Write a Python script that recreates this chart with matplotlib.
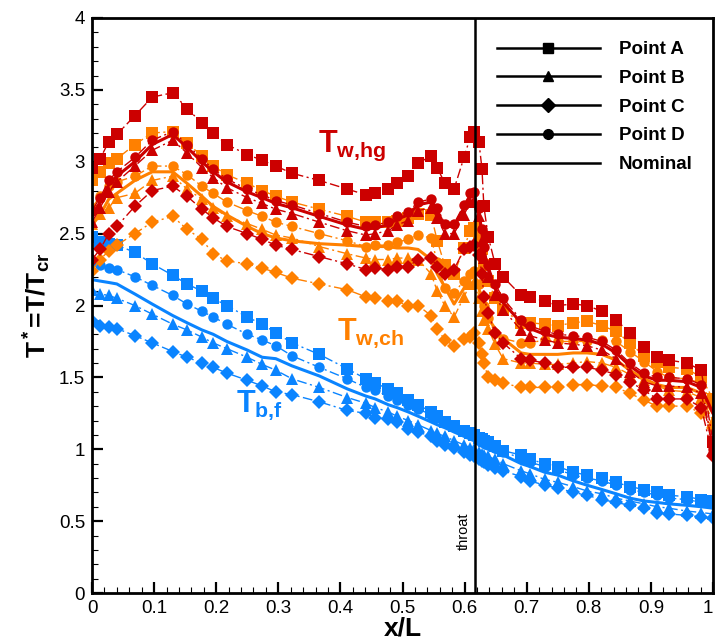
import matplotlib.pyplot as plt
from matplotlib.lines import Line2D

# axial stations (x/L) shared by every curve
x_stations = [0.000, 0.013, 0.027, 0.040, 0.069, 0.097, 0.130, 0.153, 0.177, 0.195,
              0.217, 0.250, 0.274, 0.296, 0.322, 0.366, 0.411, 0.441, 0.456, 0.477,
              0.491, 0.509, 0.525, 0.546, 0.556, 0.568, 0.583, 0.599, 0.609, 0.615,
              0.623, 0.628, 0.631, 0.638, 0.649, 0.662, 0.691, 0.705, 0.729, 0.750,
              0.775, 0.797, 0.821, 0.844, 0.866, 0.889, 0.910, 0.929, 0.958, 0.981,
              1.000]

# hot-gas side wall temperature T_w,hg
red_a = [2.96, 3.02, 3.14, 3.19, 3.32, 3.45, 3.48, 3.37, 3.27, 3.20,
         3.12, 3.05, 3.01, 2.97, 2.92, 2.87, 2.81, 2.77, 2.78, 2.81,
         2.85, 2.90, 2.99, 3.04, 2.96, 2.85, 2.81, 3.03, 3.17, 3.21,
         3.14, 2.95, 2.69, 2.48, 2.29, 2.20, 2.07, 2.06, 2.03, 2.00,
         2.01, 2.00, 1.96, 1.90, 1.81, 1.71, 1.64, 1.62, 1.60, 1.55,
         1.05]
red_b = [2.58, 2.68, 2.79, 2.86, 2.97, 3.08, 3.15, 3.06, 2.96, 2.89,
         2.82, 2.75, 2.71, 2.67, 2.64, 2.58, 2.52, 2.49, 2.50, 2.52,
         2.56, 2.59, 2.66, 2.68, 2.61, 2.50, 2.50, 2.63, 2.72, 2.73,
         2.62, 2.45, 2.33, 2.20, 2.07, 1.97, 1.83, 1.79, 1.76, 1.74,
         1.73, 1.72, 1.69, 1.63, 1.54, 1.47, 1.44, 1.44, 1.43, 1.39,
         1.00]
red_c = [2.32, 2.39, 2.50, 2.55, 2.69, 2.80, 2.83, 2.76, 2.67, 2.61,
         2.55, 2.50, 2.46, 2.42, 2.39, 2.34, 2.29, 2.25, 2.26, 2.25,
         2.27, 2.27, 2.32, 2.33, 2.27, 2.22, 2.25, 2.39, 2.41, 2.42,
         2.35, 2.22, 2.06, 1.95, 1.81, 1.74, 1.63, 1.62, 1.60, 1.57,
         1.57, 1.57, 1.55, 1.52, 1.47, 1.41, 1.35, 1.35, 1.35, 1.29,
         0.95]
red_d = [2.66, 2.75, 2.87, 2.93, 3.03, 3.15, 3.21, 3.12, 3.02, 2.95,
         2.88, 2.81, 2.77, 2.73, 2.70, 2.64, 2.58, 2.55, 2.56, 2.58,
         2.62, 2.65, 2.72, 2.74, 2.68, 2.57, 2.57, 2.70, 2.78, 2.79,
         2.68, 2.53, 2.41, 2.28, 2.15, 2.05, 1.90, 1.86, 1.82, 1.80,
         1.79, 1.78, 1.75, 1.69, 1.60, 1.53, 1.50, 1.50, 1.49, 1.45,
         1.00]
red_nom = [2.62, 2.72, 2.84, 2.90, 3.00, 3.12, 3.19, 3.10, 3.00, 2.93,
           2.86, 2.79, 2.75, 2.71, 2.68, 2.62, 2.56, 2.53, 2.54, 2.56,
           2.60, 2.63, 2.70, 2.72, 2.66, 2.55, 2.55, 2.68, 2.76, 2.77,
           2.66, 2.50, 2.38, 2.25, 2.12, 2.02, 1.88, 1.84, 1.80, 1.78,
           1.77, 1.76, 1.73, 1.67, 1.58, 1.51, 1.48, 1.48, 1.47, 1.43,
           1.25]

# coolant side wall temperature T_w,ch
orange_a = [2.87, 2.93, 2.99, 3.02, 3.12, 3.20, 3.21, 3.13, 3.04, 2.97,
            2.91, 2.85, 2.80, 2.76, 2.72, 2.67, 2.62, 2.58, 2.58, 2.58,
            2.59, 2.61, 2.64, 2.63, 2.45, 2.28, 2.22, 2.40, 2.52, 2.54,
            2.48, 2.39, 2.28, 2.17, 2.05, 1.97, 1.88, 1.88, 1.87, 1.86,
            1.88, 1.89, 1.86, 1.82, 1.74, 1.65, 1.61, 1.57, 1.56, 1.50,
            1.35]
orange_b = [2.57, 2.64, 2.68, 2.75, 2.78, 2.87, 2.90, 2.81, 2.74, 2.68,
            2.62, 2.57, 2.53, 2.49, 2.47, 2.41, 2.36, 2.33, 2.32, 2.32,
            2.33, 2.33, 2.32, 2.22, 2.10, 2.00, 1.92, 2.06, 2.15, 2.16,
            2.05, 1.96, 1.90, 1.84, 1.73, 1.63, 1.60, 1.60, 1.59, 1.59,
            1.60, 1.61, 1.60, 1.57, 1.52, 1.48, 1.44, 1.41, 1.40, 1.36,
            1.20]
orange_c = [2.24, 2.32, 2.38, 2.42, 2.50, 2.58, 2.62, 2.53, 2.46, 2.36,
            2.31, 2.29, 2.26, 2.23, 2.19, 2.15, 2.11, 2.06, 2.05, 2.03,
            2.03, 2.00, 2.00, 1.93, 1.84, 1.76, 1.72, 1.77, 1.78, 1.81,
            1.74, 1.66, 1.60, 1.50, 1.48, 1.46, 1.43, 1.43, 1.43, 1.43,
            1.45, 1.45, 1.44, 1.43, 1.39, 1.34, 1.30, 1.30, 1.30, 1.25,
            1.15]
orange_d = [2.68, 2.76, 2.83, 2.86, 2.90, 2.97, 2.97, 2.91, 2.83, 2.78,
            2.72, 2.66, 2.62, 2.58, 2.55, 2.50, 2.45, 2.41, 2.42, 2.42,
            2.44, 2.46, 2.49, 2.47, 2.30, 2.12, 2.09, 2.17, 2.22, 2.24,
            2.15, 2.06, 2.00, 1.91, 1.81, 1.77, 1.74, 1.74, 1.76, 1.75,
            1.75, 1.75, 1.76, 1.75, 1.68, 1.61, 1.54, 1.50, 1.49, 1.46,
            1.30]
orange_nom = [2.56, 2.63, 2.74, 2.78, 2.87, 2.93, 2.93, 2.85, 2.76, 2.69,
              2.63, 2.55, 2.50, 2.47, 2.45, 2.43, 2.42, 2.41, 2.41, 2.41,
              2.40, 2.40, 2.39, 2.32, 2.22, 2.13, 2.01, 2.12, 2.20, 2.22,
              2.12, 2.03, 1.97, 1.91, 1.84, 1.77, 1.67, 1.66, 1.66, 1.66,
              1.67, 1.67, 1.66, 1.62, 1.55, 1.49, 1.45, 1.43, 1.43, 1.39,
              1.25]

# bulk fuel temperature T_b,f
blue_a = [2.48, 2.44, 2.43, 2.42, 2.37, 2.29, 2.21, 2.15, 2.10, 2.05,
          2.00, 1.92, 1.87, 1.81, 1.74, 1.66, 1.56, 1.49, 1.46, 1.42,
          1.39, 1.34, 1.31, 1.26, 1.23, 1.19, 1.16, 1.13, 1.11, 1.10,
          1.08, 1.07, 1.06, 1.05, 1.02, 0.99, 0.96, 0.93, 0.90, 0.88,
          0.84, 0.82, 0.80, 0.77, 0.74, 0.72, 0.70, 0.68, 0.67, 0.65,
          0.64]
blue_b = [2.11, 2.08, 2.07, 2.05, 2.00, 1.94, 1.87, 1.83, 1.78, 1.74,
          1.70, 1.64, 1.59, 1.55, 1.49, 1.43, 1.36, 1.32, 1.29, 1.26,
          1.23, 1.20, 1.17, 1.13, 1.11, 1.09, 1.06, 1.03, 1.01, 1.00,
          0.98, 0.97, 0.96, 0.95, 0.93, 0.90, 0.85, 0.83, 0.79, 0.77,
          0.74, 0.71, 0.69, 0.66, 0.64, 0.62, 0.60, 0.59, 0.57, 0.56,
          0.55]
blue_c = [1.89, 1.86, 1.85, 1.84, 1.79, 1.74, 1.68, 1.64, 1.60, 1.57,
          1.53, 1.48, 1.44, 1.40, 1.38, 1.33, 1.27, 1.25, 1.22, 1.21,
          1.19, 1.14, 1.12, 1.09, 1.06, 1.03, 1.01, 0.98, 0.96, 0.95,
          0.93, 0.92, 0.91, 0.89, 0.87, 0.85, 0.81, 0.78, 0.75, 0.73,
          0.70, 0.68, 0.65, 0.63, 0.61, 0.59, 0.56, 0.55, 0.54, 0.53,
          0.52]
blue_d = [2.30, 2.28, 2.26, 2.25, 2.20, 2.14, 2.07, 2.01, 1.96, 1.92,
          1.87, 1.80, 1.76, 1.72, 1.65, 1.57, 1.49, 1.43, 1.41, 1.37,
          1.34, 1.31, 1.28, 1.24, 1.22, 1.19, 1.16, 1.13, 1.11, 1.10,
          1.07, 1.06, 1.05, 1.04, 1.01, 0.98, 0.94, 0.91, 0.88, 0.86,
          0.82, 0.80, 0.78, 0.75, 0.72, 0.70, 0.68, 0.66, 0.65, 0.63,
          0.62]
blue_nom = [2.18, 2.17, 2.16, 2.15, 2.08, 2.01, 1.93, 1.88, 1.83, 1.80,
            1.75, 1.69, 1.64, 1.63, 1.58, 1.51, 1.42, 1.37, 1.35, 1.31,
            1.29, 1.26, 1.23, 1.19, 1.17, 1.15, 1.12, 1.09, 1.07, 1.06,
            1.03, 1.02, 1.01, 1.00, 0.98, 0.96, 0.90, 0.88, 0.84, 0.82,
            0.78, 0.75, 0.72, 0.69, 0.66, 0.64, 0.63, 0.62, 0.61, 0.60,
            0.59]

x_throat = 0.617
point_names = ["Point A", "Point B", "Point C", "Point D"]
point_markers = ["s", "^", "D", "o"]
marker_sizes = [8, 8.5, 7.2, 7.5]
x_ticklabels = ["0", "0.1", "0.2", "0.3", "0.4", "0.5", "0.6", "0.7", "0.8", "0.9", "1"]
y_ticklabels = ["0", "0.5", "1", "1.5", "2", "2.5", "3", "3.5", "4"]

plt.rcParams["font.family"] = ["Liberation Sans", "DejaVu Sans"]
plt.rcParams["mathtext.fontset"] = "custom"
plt.rcParams["mathtext.rm"] = "Liberation Sans:bold"
plt.rcParams["mathtext.it"] = "Liberation Sans:bold"
plt.rcParams["mathtext.bf"] = "Liberation Sans:bold"

fig = plt.figure(figsize=(7.16, 6.41), dpi=100)
ax = fig.add_axes([92 / 716, 1 - 593 / 641, 621 / 716, 575 / 641])

groups = [
    ("#0A84FF", [blue_a, blue_b, blue_c, blue_d], blue_nom),
    ("#FF8000", [orange_a, orange_b, orange_c, orange_d], orange_nom),
    ("#CC0000", [red_a, red_b, red_c, red_d], red_nom),
]
dashdot = (0, (7, 2.5, 1.5, 2.5))
for color, series, nominal in groups:
    for vals, mk, ms in zip(series, point_markers, marker_sizes):
        ax.plot(x_stations, vals, linestyle=dashdot, linewidth=1.0, color=color,
                marker=mk, markersize=ms, markeredgewidth=0)
    ax.plot(x_stations, nominal, "-", linewidth=2.2, color=color)

# throat position
ax.axvline(x_throat, color="black", linewidth=1.8)
ax.text(x_throat - 0.019, 0.43, "throat", rotation=90, fontsize=10.5,
        ha="center", va="center")

# curve labels
ax.text(0.364, 3.07, r"$\mathbf{T}_{\mathbf{w{,}hg}}$", color="#CC0000", fontsize=22)
ax.text(0.395, 1.76, r"$\mathbf{T}_{\mathbf{w{,}ch}}$", color="#FF8000", fontsize=22)
ax.text(0.232, 1.26, r"$\mathbf{T}_{\mathbf{b{,}f}}$", color="#0A84FF", fontsize=22)

# legend
handles = [Line2D([0], [0], color="black", linewidth=1.8, marker=mk, markersize=7)
           for mk in point_markers]
handles.append(Line2D([0], [0], color="black", linewidth=1.8))
ax.legend(handles, point_names + ["Nominal"], loc="upper left",
          bbox_to_anchor=(0.652, 0.96), frameon=False, numpoints=1,
          handlelength=5.5, handletextpad=1.0, labelspacing=0.62,
          borderpad=0, borderaxespad=0, prop={"weight": "bold", "size": 13.5})

ax.set_xlim(0, 1)
ax.set_ylim(0, 4)
ax.set_xticks([i / 10 for i in range(11)])
ax.set_xticklabels(x_ticklabels)
ax.get_xticklabels()[-1].set_horizontalalignment("right")
ax.set_yticks([i / 2 for i in range(9)])
ax.set_yticklabels(y_ticklabels)
ax.set_xticks([i / 50 for i in range(51)], minor=True)
ax.set_yticks([i / 10 for i in range(41)], minor=True)
ax.tick_params(which="major", direction="in", length=8, width=1.6, labelsize=13.5, pad=5)
ax.tick_params(which="minor", direction="in", length=4, width=0.8)
for spine in ax.spines.values():
    spine.set_linewidth(2)

ax.set_xlabel("x/L", fontsize=19, fontweight="bold", labelpad=0)
ax.set_ylabel(r"T$^*$=T/T$_{\mathbf{cr}}$", fontsize=19, fontweight="bold", labelpad=4)

fig.savefig("out.png", dpi=100)
